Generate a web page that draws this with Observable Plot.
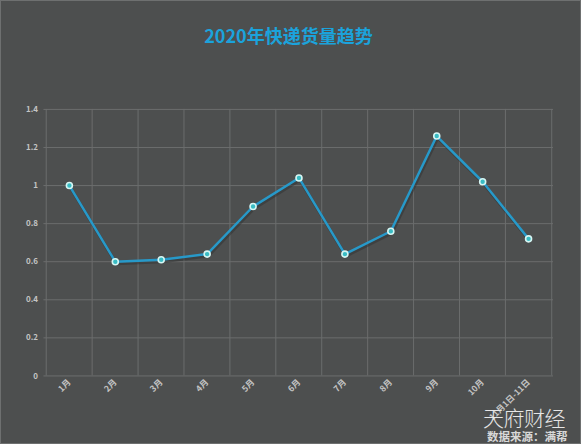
<!DOCTYPE html>
<html>
<head>
<meta charset="utf-8">
<script src="https://cdn.jsdelivr.net/npm/d3@7"></script>
<script src="https://cdn.jsdelivr.net/npm/@observablehq/plot@0.6"></script>
<style>
  html, body { margin: 0; padding: 0; background: #4d4f4f; }
  #wrap { position: relative; width: 581px; height: 444px; overflow: hidden; background: #4d4f4f; box-sizing: border-box; border: 1px solid #6e7070; }
  #title { position: absolute; left: -3px; top: 22px; width: 581px; text-align: center; font-family: "Noto Sans CJK SC", sans-serif; font-weight: bold; font-size: 18px; color: #1ba3dc; line-height: 24px; }
  #chart { position: absolute; left: -1px; top: 58px; }
  #wm { position: absolute; left: 482px; top: 403px; font-family: "Noto Sans CJK SC", sans-serif; font-weight: 300; font-size: 21px; color: #e6e6e6; line-height: 26px; letter-spacing: -0.5px; }
  #src { position: absolute; left: 486px; top: 428px; font-family: "Noto Sans CJK SC", sans-serif; font-weight: bold; font-size: 11.5px; color: #d8d8d8; line-height: 15px; }
</style>
</head>
<body>
<div id="wrap">
  <div id="title"></div>
  <div id="chart"></div>
  <div id="wm"></div>
  <div id="src"></div>
</div>
<script>
const titleText = "2020年快递货量趋势";
const watermark = "天府财经";
const sourceText = "数据来源：满帮";
const months = ["1月", "2月", "3月", "4月", "5月", "6月", "7月", "8月", "9月", "10月", "11月1日-11日"];
const volumes = [1.0, 0.6, 0.61, 0.64, 0.89, 1.04, 0.64, 0.76, 1.26, 1.02, 0.72];
const yTicks = [0, 0.2, 0.4, 0.6, 0.8, 1, 1.2, 1.4];

document.getElementById("title").textContent = titleText;
document.getElementById("wm").textContent = watermark;
document.getElementById("src").textContent = sourceText;

const data = months.map((m, i) => ({month: m, value: volumes[i]}));

const W = 581, H = 386;
const mL = 43.5, mR = 27, mT = 50, mB = 69;
const step = (W - mL - mR) / months.length;

const chart = Plot.plot({
  width: W,
  height: H,
  marginLeft: mL,
  marginRight: mR,
  marginTop: mT,
  marginBottom: mB,
  style: {background: "transparent", color: "#c4c4c4", fontFamily: "'Noto Sans CJK SC', sans-serif", overflow: "visible"},
  x: {type: "point", domain: months, padding: 0.5, label: null},
  y: {domain: [0, 1.4], label: null},
  marks: [
    Plot.ruleY(yTicks, {stroke: "#6b6d6d", strokeWidth: 1}),
    Plot.ruleX(months.slice(1), {stroke: "#6b6d6d", strokeWidth: 1, dx: -step / 2}),
    Plot.ruleX(months.slice(0, 1), {stroke: "#6b6d6d", strokeWidth: 1, dx: -step / 2}),
    Plot.ruleX(months.slice(-1), {stroke: "#6b6d6d", strokeWidth: 1, dx: step / 2}),
    Plot.axisY({ticks: yTicks, tickSize: 0, tickPadding: 6, fontSize: 8, fontWeight: "bold", tickFormat: d => String(d)}),
    Plot.axisX({tickSize: 0, tickPadding: 5, tickRotate: -45, fontSize: 8.5, fontWeight: "bold"}),
    Plot.line(data, {x: "month", y: "value", stroke: "#2f3131", strokeWidth: 3, strokeOpacity: 0.5, dy: 2, dx: 1}),
    Plot.line(data, {x: "month", y: "value", stroke: "#2799c9", strokeWidth: 2.5}),
    Plot.dot(data, {x: "month", y: "value", r: 3, fill: "#39bcc4", stroke: "#d6f6f4", strokeWidth: 1.6})
  ]
});
document.getElementById("chart").appendChild(chart);
</script>
</body>
</html>
